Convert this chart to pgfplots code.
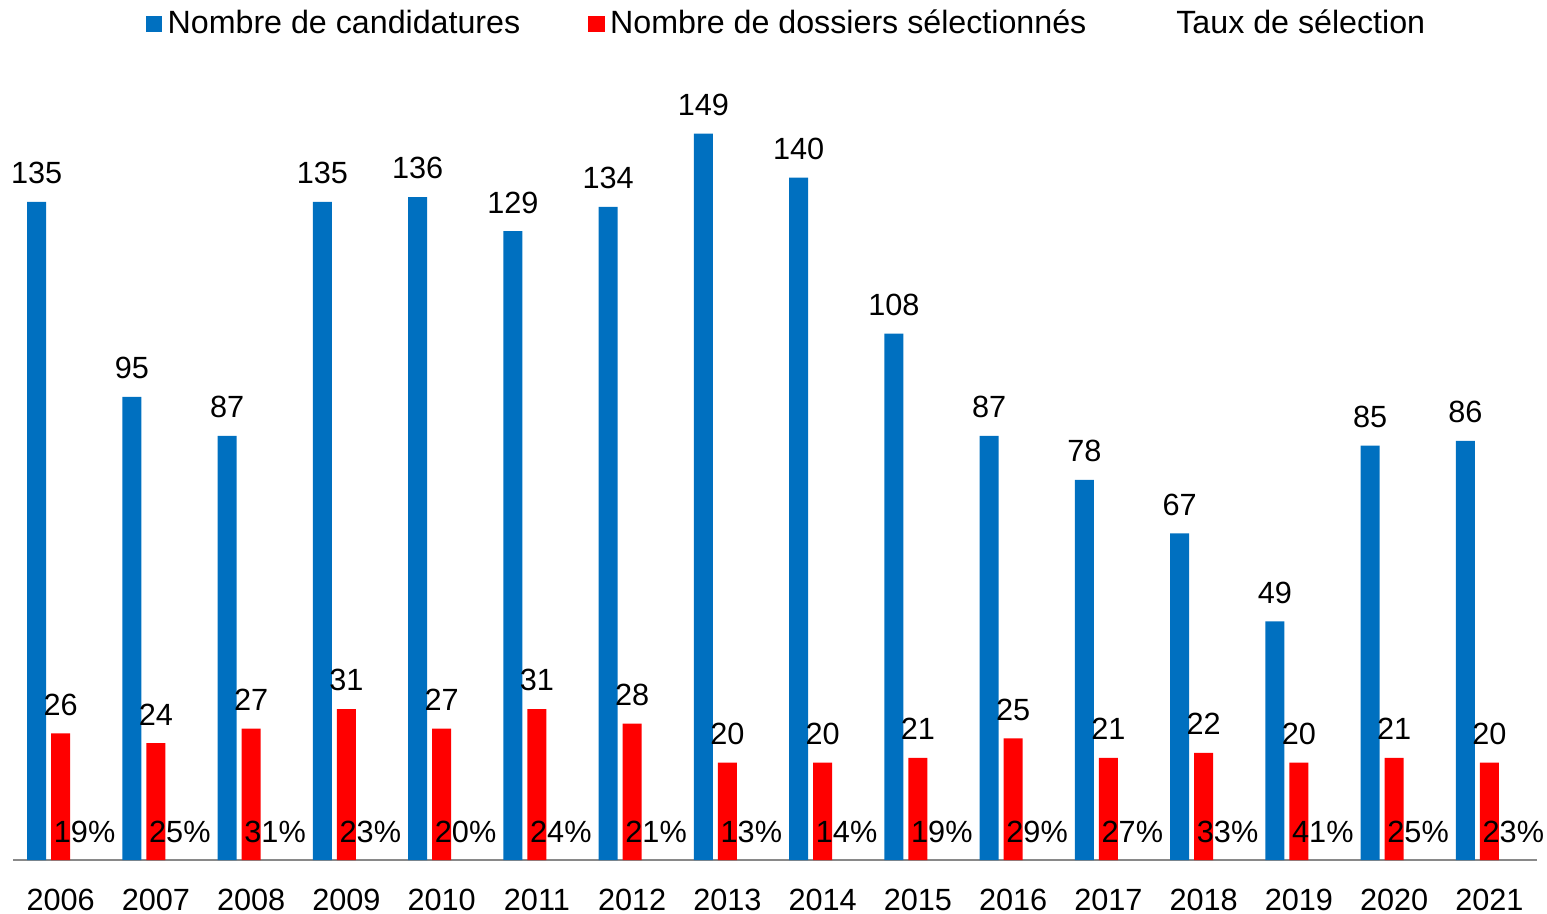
\documentclass[border=0pt]{standalone}
\usepackage{pgfplots}
\pgfplotsset{compat=1.18}
\usepackage{fontspec}
\setmainfont{Liberation Sans}
\definecolor{cblue}{HTML}{0070C0}
\definecolor{cred}{HTML}{FF0000}
\definecolor{caxis}{HTML}{898989}
\begin{document}
\fontsize{10pt}{12pt}\selectfont
\begin{tikzpicture}[font=\fontsize{10pt}{12pt}\selectfont]
\begin{axis}[
  name=ax,
  scale only axis,
  width=496.8pt, height=254.3pt,
  xmin=-0.5, xmax=15.5, ymin=0, ymax=160,
  enlargelimits=false,
  ybar, bar width=6.19pt,
  axis x line*=bottom, axis y line=none,
  axis line style={draw=caxis, line width=0.8pt, -},
  xtick={0,1,2,3,4,5,6,7,8,9,10,11,12,13,14,15},
  xticklabels={2006,2007,2008,2009,2010,2011,2012,2013,2014,2015,2016,2017,2018,2019,2020,2021},
  major tick length=0pt,
  xticklabel style={yshift=-5.8pt},
  /pgf/number format/assume math mode=true,
  clip=false,
  every node near coord/.append style={anchor=base, yshift=5.9pt, font=\fontsize{10pt}{12pt}\selectfont},
  legend columns=3,
  legend style={at={(0.5086,1.0718)}, anchor=center, draw=none, fill=none,
    nodes={inner sep=1.7pt},
    /tikz/every odd column/.append style={column sep=0pt},
    /tikz/every even column/.append style={column sep=20.5pt},
    font=\fontsize{10.5pt}{12pt}\selectfont},
]
\addplot[fill=cblue, draw=none, bar shift=-7.82pt, nodes near coords,
  legend image code/.code={\fill[cblue] (0pt,-2.7pt) rectangle (5.4pt,2.7pt);}]
  coordinates {(0,135) (1,95) (2,87) (3,135) (4,136) (5,129) (6,134) (7,149)
               (8,140) (9,108) (10,87) (11,78) (12,67) (13,49) (14,85) (15,86)};
\addlegendentry{Nombre de candidatures}
\addplot[fill=cred, draw=none, bar shift=0pt, nodes near coords,
  legend image code/.code={\fill[cred] (0pt,-2.7pt) rectangle (5.4pt,2.7pt);}]
  coordinates {(0,26) (1,24) (2,27) (3,31) (4,27) (5,31) (6,28) (7,20)
               (8,20) (9,21) (10,25) (11,21) (12,22) (13,20) (14,21) (15,20)};
\addlegendentry{Nombre de dossiers sélectionnés}
\addplot[fill=none, draw=none, bar shift=7.82pt, nodes near coords,
  point meta=explicit symbolic,
  legend image code/.code={\path (0pt,-2.7pt) rectangle (5.4pt,2.7pt);}]
  coordinates {(0,0) [19\%] (1,0) [25\%] (2,0) [31\%] (3,0) [23\%] (4,0) [20\%]
               (5,0) [24\%] (6,0) [21\%] (7,0) [13\%] (8,0) [14\%] (9,0) [19\%]
               (10,0) [29\%] (11,0) [27\%] (12,0) [33\%] (13,0) [41\%] (14,0) [25\%] (15,0) [23\%]};
\addlegendentry{Taux de sélection}
\end{axis}
\pgfresetboundingbox
\path[use as bounding box] ([xshift=-4.24pt,yshift=-17.28pt]ax.south west) rectangle ([xshift=3.26pt,yshift=26.1pt]ax.north east);
\end{tikzpicture}
\end{document}
